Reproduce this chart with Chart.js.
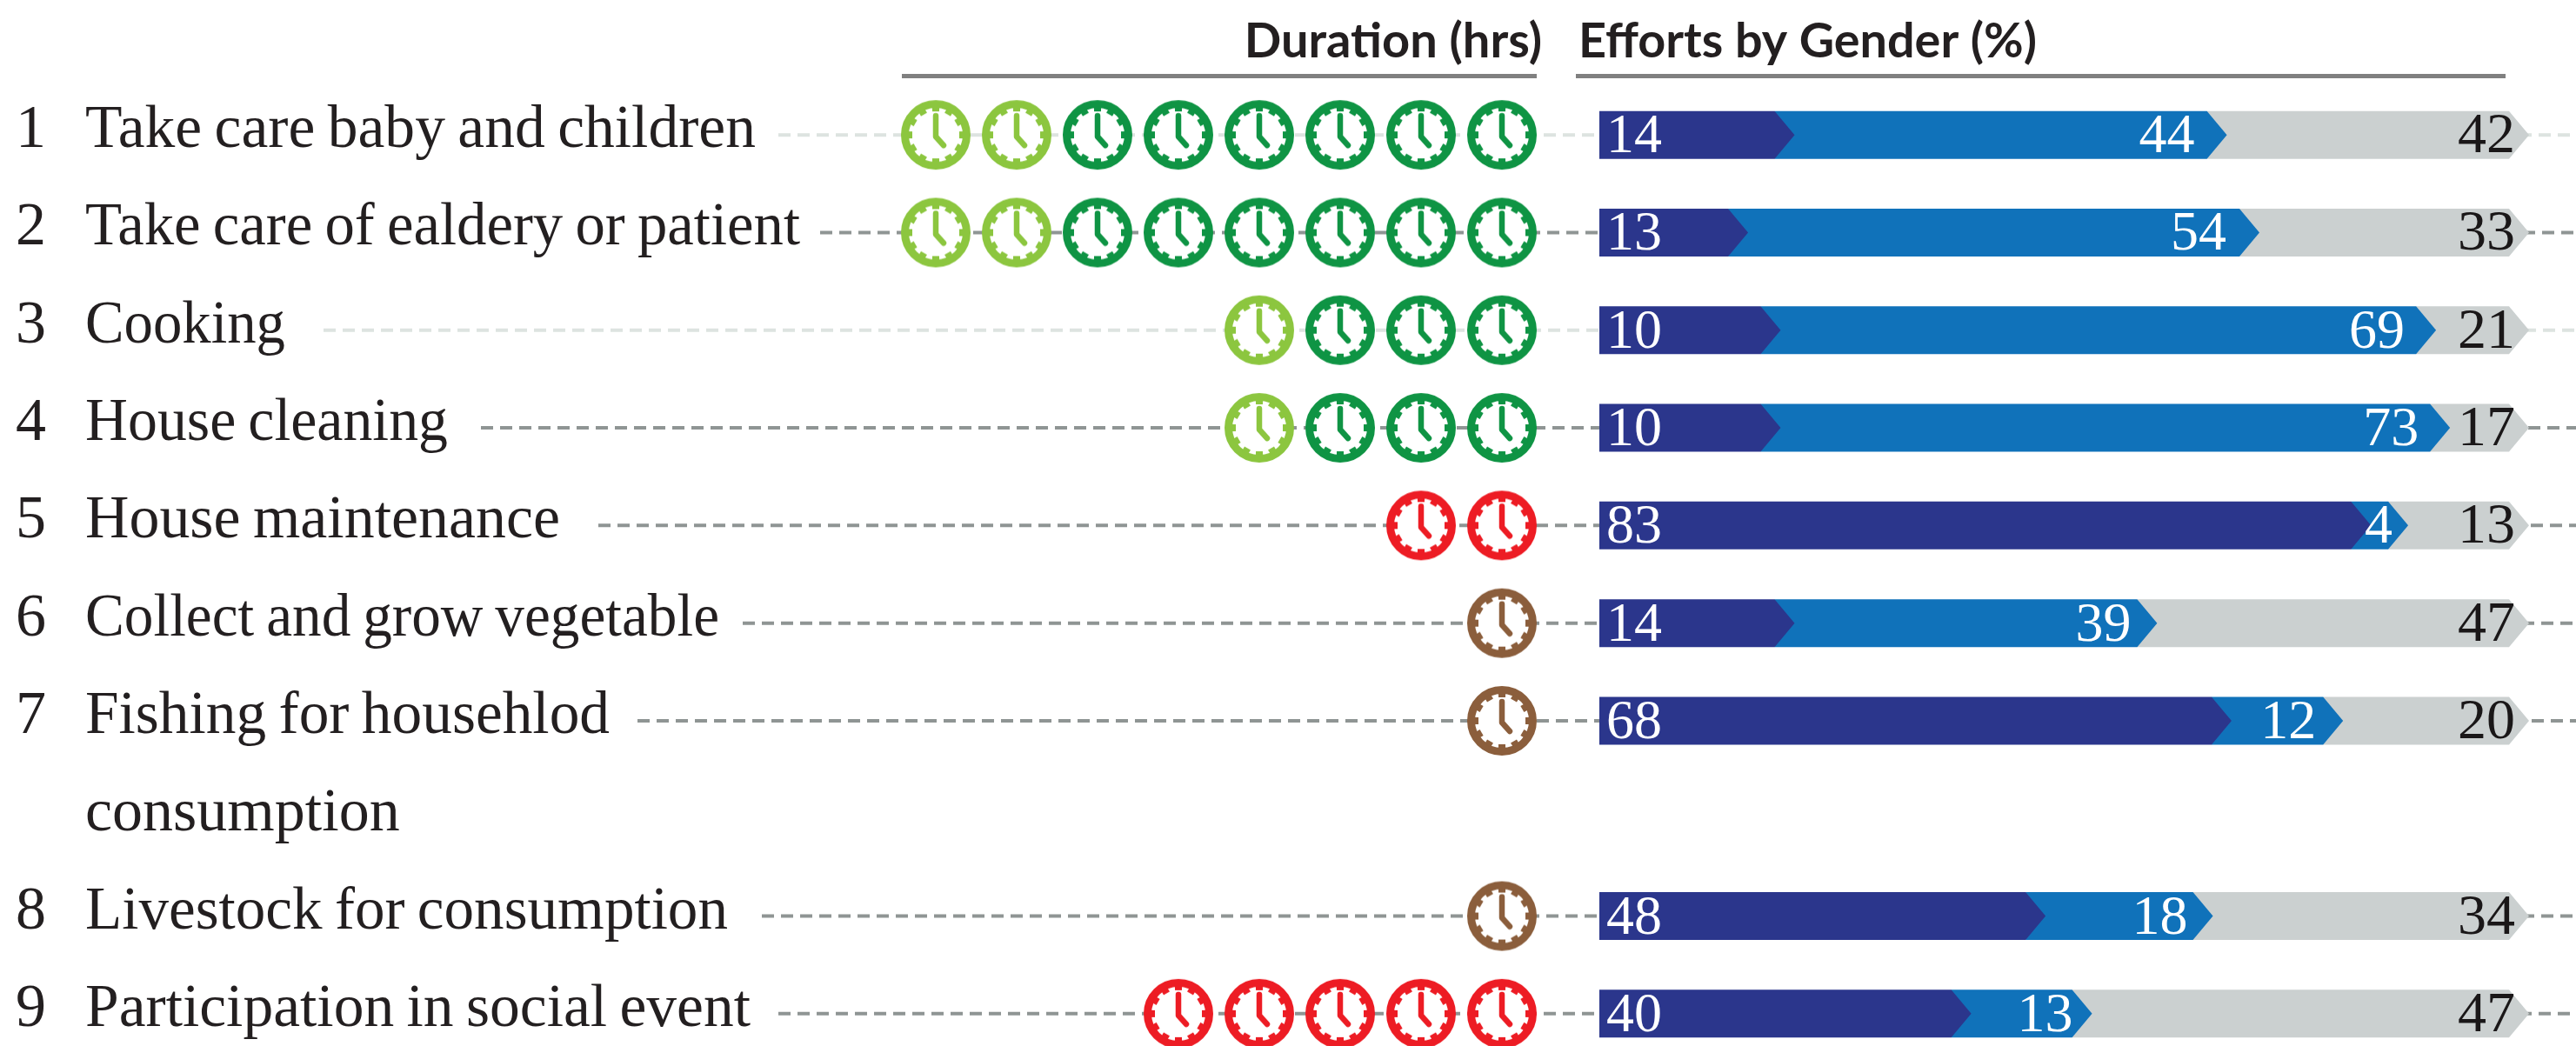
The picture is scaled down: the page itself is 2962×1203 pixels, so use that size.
<!DOCTYPE html>
<html>
<head>
<meta charset="utf-8">
<title>Duration and efforts by gender</title>
<script src="https://cdn.jsdelivr.net/npm/chart.js@4"></script>
<style>
  html, body { margin: 0; padding: 0; background: #fff; overflow: hidden; }
  canvas { display: block; }
</style>
</head>
<body>
<canvas id="effortChart" width="2962" height="1225"></canvas>
<script>
// Row 8 of the axis is only the second line of the "Fishing" label, so it has no values.
const ranks = ['1', '2', '3', '4', '5', '6', '7', '', '8', '9'];
const activities = [
    'Take care baby and children',
    'Take care of ealdery or patient',
    'Cooking',
    'House cleaning',
    'House maintenance',
    'Collect and grow vegetable',
    'Fishing for househlod',
    'consumption',
    'Livestock for consumption',
    'Participation in social event'
];
const headers = ['Duration (hrs)', 'Efforts by Gender (%)'];

// Number of clocks per row, one list per clock colour (counted from the right)
const greenHours = [6, 6, 3, 3, 0, 0, 0, null, 0, 0];
const lightGreenHours = [2, 2, 1, 1, 0, 0, 0, null, 0, 0];
const redHours = [0, 0, 0, 0, 2, 0, 0, null, 0, 5];
const brownHours = [0, 0, 0, 0, 0, 1, 1, null, 1, 0];

// Numbers printed on the bars
const printedFirst = [14, 13, 10, 10, 83, 14, 68, null, 48, 40];
const printedSecond = [44, 54, 69, 73, 4, 39, 12, null, 18, 13];
const printedThird = [42, 33, 21, 17, 13, 47, 20, null, 34, 47];

// Segment lengths. In several rows the picture draws them
// longer or shorter than the printed number, so they are kept apart from it.
const drawnFirst = [21, 16, 19.5, 19.5, 83, 21, 68, null, 48, 40];
const drawnSecond = [46.5, 55, 70.5, 72, 4, 39, 12, null, 18, 13];
const drawnThird = [32.5, 29, 10, 8.5, 13, 40, 20, null, 34, 47];

// Layout, in canvas pixels
const W = 2962;
const effortZero = 1839, effortPxPerUnit = 10.69;
const clockRight = 1727, clockStep = 93;
const labelWidths = [771, 822, 230, 417, 546, 729, 603, 367, 739, 765];
const leaderStarts = [895, 943, 372, 553, 688, 854, 733, null, 876, 895];
const secondLabelInset = [37, 38, 36, 36, 18, 30, 31, null, 29, 22];
const lightLeaders = [0, 2];
const tipLength = 23;

const serif = '"Liberation Serif", serif';

// Draws one clock icon on a small canvas, used as the point style
function makeClock(color) {
    const c = document.createElement('canvas');
    c.width = 84;
    c.height = 84;
    const g = c.getContext('2d');
    g.translate(42, 42);
    g.beginPath();
    g.arc(0, 0, 35.5, 0, Math.PI * 2);
    g.fillStyle = '#fff';
    g.fill();
    g.strokeStyle = color;
    g.lineWidth = 9;
    g.stroke();
    // small teeth on the inside of the ring
    g.lineWidth = 8;
    for (let i = 0; i < 12; i++) {
        const a = i * Math.PI / 6;
        g.beginPath();
        g.moveTo(Math.cos(a) * 33, Math.sin(a) * 33);
        g.lineTo(Math.cos(a) * 27, Math.sin(a) * 27);
        g.stroke();
    }
    // hands
    g.lineWidth = 6.5;
    g.lineCap = 'round';
    g.lineJoin = 'round';
    g.beginPath();
    g.moveTo(0, -22);
    g.lineTo(0, 2);
    g.lineTo(9, 12);
    g.stroke();
    return c;
}

// Turns the per-row clock counts into points, stacked up from the right
const filled = activities.map(() => 0);
function clockPoints(hours) {
    const points = [];
    hours.forEach((n, row) => {
        for (let i = 0; i < (n || 0); i++) {
            filled[row]++;
            // the category scale wants the label here, a number would be read as the data index
            points.push({ x: filled[row], y: activities[row] });
        }
    });
    return points;
}

function clockDataset(hours, color) {
    return {
        type: 'scatter',
        xAxisID: 'hrs',
        data: clockPoints(hours),
        pointStyle: makeClock(color),
        order: 5
    };
}

function barDataset(values, color) {
    return {
        type: 'bar',
        xAxisID: 'x',
        data: values,
        backgroundColor: color,
        barThickness: 55,
        order: 10
    };
}

// Leader lines, row labels and headers go under the marks
const backdropPlugin = {
    id: 'backdrop',
    beforeDatasetsDraw(chart) {
        const ctx = chart.ctx;
        const y = chart.scales.y;
        ctx.save();
        ctx.lineWidth = 4;
        ctx.setLineDash([14, 8]);
        leaderStarts.forEach((start, row) => {
            if (start === null) return;
            const py = y.getPixelForValue(row);
            ctx.strokeStyle = lightLeaders.includes(row) ? '#dde3e0' : '#8f9594';
            ctx.beginPath();
            ctx.moveTo(start, py);
            ctx.lineTo(W, py);
            ctx.stroke();
        });
        ctx.setLineDash([]);

        ctx.fillStyle = '#231f20';
        ctx.textBaseline = 'alphabetic';
        ctx.font = '70px ' + serif;
        ctx.wordSpacing = '-3px';
        activities.forEach((label, row) => {
            const py = y.getPixelForValue(row) + 14;
            ctx.textAlign = 'right';
            ctx.fillText(ranks[row], 53, py);
            ctx.textAlign = 'left';
            ctx.fillText(label, 98, py, labelWidths[row]);
        });
        ctx.wordSpacing = '0px';

        ctx.font = 'bold 56px Lato, sans-serif';
        ctx.textAlign = 'right';
        ctx.fillText(headers[0], 1773, 66, 348);
        ctx.textAlign = 'left';
        ctx.fillText(headers[1], 1815, 66, 527);

        ctx.fillStyle = '#808080';
        ctx.fillRect(1037, 85, 730, 5);
        ctx.fillRect(1812, 85, 1069, 5);
        ctx.restore();
    }
};

// Replaces the plain rectangle of each bar with an arrow shape
const arrowPlugin = {
    id: 'arrows',
    beforeDatasetDraw(chart, args) {
        if (args.meta.type !== 'bar') return;
        const ctx = chart.ctx;
        const colors = chart.data.datasets[args.index].backgroundColor;
        ctx.save();
        ctx.fillStyle = colors;
        args.meta.data.forEach((bar, row) => {
            if (activities[row] === 'consumption') return;
            const top = bar.y - bar.height / 2;
            const bottom = bar.y + bar.height / 2;
            // later segments slide under the tip of the one before
            const tail = args.index === 0 ? bar.base : bar.base - tipLength;
            ctx.beginPath();
            ctx.moveTo(tail, top);
            ctx.lineTo(bar.x - tipLength, top);
            ctx.lineTo(bar.x, bar.y);
            ctx.lineTo(bar.x - tipLength, bottom);
            ctx.lineTo(tail, bottom);
            ctx.closePath();
            ctx.fill();
        });
        ctx.restore();
        return false;
    }
};

// Numbers on top of the bars
const numbersPlugin = {
    id: 'numbers',
    afterDatasetsDraw(chart) {
        const ctx = chart.ctx;
        const y = chart.scales.y;
        const x = chart.scales.x;
        ctx.save();
        ctx.textBaseline = 'alphabetic';
        printedFirst.forEach((value, row) => {
            if (value === null) return;
            const py = y.getPixelForValue(row) + 20;
            const secondTip = x.getPixelForValue(drawnFirst[row] + drawnSecond[row]);
            const end = x.getPixelForValue(100);
            ctx.font = '64px ' + serif;
            ctx.fillStyle = '#fff';
            ctx.textAlign = 'left';
            ctx.fillText(value, x.getPixelForValue(0) + 8, py);
            ctx.textAlign = 'right';
            ctx.fillText(printedSecond[row], secondTip - secondLabelInset[row], py);
            ctx.font = '66px ' + serif;
            ctx.fillStyle = '#1a1718';
            ctx.fillText(printedThird[row], end - 16, py);
        });
        ctx.restore();
    }
};

new Chart(document.getElementById('effortChart'), {
    type: 'bar',
    data: {
        labels: activities,
        datasets: [
            barDataset(drawnFirst, '#2b368c'),
            barDataset(drawnSecond, '#1072ba'),
            barDataset(drawnThird, '#cbd0d0'),
            clockDataset(greenHours, '#0f9444'),
            clockDataset(lightGreenHours, '#8cc63f'),
            clockDataset(redHours, '#ed1c24'),
            clockDataset(brownHours, '#8b5e3c')
        ]
    },
    options: {
        indexAxis: 'y',
        responsive: false,
        animation: false,
        events: [],
        layout: { autoPadding: false, padding: { top: 99, bottom: 3, left: 0, right: 0 } },
        plugins: {
            legend: { display: false },
            tooltip: { enabled: false }
        },
        scales: {
            y: {
                type: 'category',
                stacked: true,
                offset: true,
                display: false
            },
            // both x axes span the whole canvas, so their limits set where each panel falls
            x: {
                type: 'linear',
                axis: 'x',
                stacked: true,
                display: false,
                min: -effortZero / effortPxPerUnit,
                max: (W - effortZero) / effortPxPerUnit
            },
            hrs: {
                type: 'linear',
                axis: 'x',
                reverse: true,
                display: false,
                min: 1 - (W - clockRight) / clockStep,
                max: 1 + clockRight / clockStep
            }
        }
    },
    plugins: [backdropPlugin, arrowPlugin, numbersPlugin]
});
</script>
</body>
</html>
